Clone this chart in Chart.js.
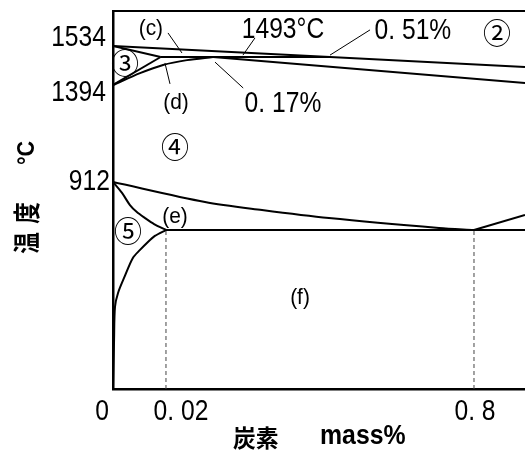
<!DOCTYPE html>
<html>
<head>
<meta charset="utf-8">
<script src="https://cdn.jsdelivr.net/npm/chart.js@4.4.1/dist/chart.umd.min.js"></script>
<style>
  html, body { margin: 0; padding: 0; background: #fff; }
  #wrap { width: 525px; height: 450px; }
</style>
</head>
<body>
<div id="wrap"><canvas id="chart" width="525" height="450"></canvas></div>
<script>
// ---- Phase boundaries of the iron-carbon system (carbon mass%, temperature °C) ----
const liquidusC = [0, 0.51, 1.0];
const liquidusT = [1534, 1493, 1458];
const deltaSolidusC = [0, 0.018];
const deltaSolidusT = [1534, 1493];
const deltaGammaC = [0, 0.018];
const deltaGammaT = [1394, 1493];
const gammaDeltaC = [0, 0.0102, 0.0189, 0.087, 0.17];
const gammaDeltaT = [1394, 1436, 1465, 1482, 1493];
const peritecticC = [0.018, 0.51];
const peritecticT = [1493, 1493];
const gammaSolidusC = [0.17, 1.0];
const gammaSolidusT = [1493, 1401];
const a3C = [0, 0.1445, 0.3124, 0.507, 0.7295, 0.8];
const a3T = [912, 835, 804, 773, 735, 727];
const alphaGammaC = [0, 0.0034, 0.0064, 0.0090, 0.0121, 0.0155, 0.02];
const alphaGammaT = [912, 870, 823, 796, 773, 750, 727];
const ferriteSolvusC = [0.02, 0.0158, 0.0128, 0.0102, 0.0075, 0.0045, 0.0019, 0.00075, 0.0004, 0];
const ferriteSolvusT = [727, 700, 668, 636, 599, 517, 439, 375, 224, 0];
const eutectoidC = [0.02, 1.0];
const eutectoidT = [727, 727];
const acmC = [0.8, 1.0];
const acmT = [727, 785];

// vertical guides below the eutectoid line
const guideLowC = [0.02, 0.02];
const guideEutC = [0.8, 0.8];
const guideT = [0, 727];

// leader lines from labels to the features they name
const leaderCC = [0.0264, 0.071];     const leaderCT = [1581, 1508];
const leaderDC = [0.0328, 0.0196];    const leaderDT = [1398, 1472];
const leaderPerC = [0.292, 0.257];    const leaderPerT = [1563, 1500];
const leader051C = [0.5906, 0.51];    const leader051T = [1592, 1500];
const leader017C = [0.1758, 0.2578];  const leader017T = [1475, 1379];

// axis ticks
const tempTicks = [1534, 1394, 912];
const tempTickText = ['1534', '1394', '912'];
const carbonTicks = [0, 0.02, 0.8];
const carbonTickText = ['0', '0. 02', '0. 8'];

// region and point labels
const regionText = ['(c)', '(d)', '(e)', '(f)'];
const regionC = [0.0143, 0.0519, 0.0487, 0.4228];
const regionT = [1595, 1305, 777, 416];
const phaseText = ['②', '③', '④', '⑤'];
const phaseC = [0.890, 0.0045, 0.0487, 0.0057];
const phaseT = [1581, 1472, 1086, 722];
const noteText = ['1493°C', '0. 51%', '0. 17%'];
const noteC = [0.3734, 0.677, 0.3734];
const noteT = [1592, 1588, 1300];

// ---- Schematic (piecewise-linear) axes ----
const AXIS_BREAKS = {
  x: { values: [0, 0.02, 0.17, 0.51, 0.8, 1.0], fractions: [0, 0.1286, 0.2427, 0.5267, 0.8762, 1] },
  y: { values: [0, 727, 912, 1394, 1493, 1534, 1660], fractions: [0, 0.4206, 0.5476, 0.8042, 0.8783, 0.9074, 1] }
};
function interp(v, from, to) {
  const n = from.length;
  let i = 0;
  while (i < n - 2 && v > from[i + 1]) i++;
  const t = (v - from[i]) / (from[i + 1] - from[i]);
  return to[i] + t * (to[i + 1] - to[i]);
}
class PiecewiseScale extends Chart.LinearScale {
  getPixelForValue(value) {
    if (value === null || value === undefined || isNaN(value)) return NaN;
    const b = AXIS_BREAKS[this.axis];
    return this.getPixelForDecimal(interp(value, b.values, b.fractions));
  }
  getValueForPixel(pixel) {
    const b = AXIS_BREAKS[this.axis];
    return interp(this.getDecimalForPixel(pixel), b.fractions, b.values);
  }
}
PiecewiseScale.id = 'piecewise';
PiecewiseScale.defaults = Chart.LinearScale.defaults;
Chart.register(PiecewiseScale);

const pts = (cs, ts) => cs.map((c, i) => ({ x: c, y: ts[i] }));
const boundary = (cs, ts, w) => ({
  data: pts(cs, ts), showLine: true, borderColor: '#000', borderWidth: w || 2,
  pointRadius: 0, fill: false, tension: 0
});
const curve = (cs, ts) => Object.assign(boundary(cs, ts, 2), { tension: 0.3 });
const leader = (cs, ts) => boundary(cs, ts, 1);
const guide = (cs, ts) => Object.assign(boundary(cs, ts, 1), { borderColor: '#444', borderDash: [4, 3] });

const NUM_FONT = "29px 'Liberation Sans', sans-serif";
const NUM_SQUEEZE = 0.85;
const PAREN_FONT = "22px 'Liberation Sans', sans-serif";
const PAREN_SQUEEZE = 0.95;
const CIRCLE_FONT = "28px 'Noto Sans CJK JP', sans-serif";

// draw text narrowed horizontally (condensed lettering)
function squeezed(ctx, text, px, py, sx, align) {
  ctx.save();
  ctx.translate(px, py);
  ctx.scale(sx, 1);
  ctx.textAlign = align || 'center';
  ctx.fillText(text, 0, 0);
  ctx.restore();
}

const annotate = {
  id: 'annotate',
  afterDraw(chart) {
    const { ctx, chartArea: a, scales: { x, y } } = chart;
    ctx.save();
    // top frame line
    ctx.strokeStyle = '#000';
    ctx.lineWidth = 2;
    ctx.beginPath();
    ctx.moveTo(a.left, a.top);
    ctx.lineTo(a.right, a.top);
    ctx.stroke();

    ctx.fillStyle = '#000';
    ctx.textBaseline = 'middle';
    const put = (texts, cs, ts, font, sx) => {
      ctx.font = font;
      texts.forEach((t, i) => squeezed(ctx, t, x.getPixelForValue(cs[i]), y.getPixelForValue(ts[i]), sx));
    };
    put(regionText, regionC, regionT, PAREN_FONT, PAREN_SQUEEZE);
    put(phaseText, phaseC, phaseT, CIRCLE_FONT, 1);
    put(noteText, noteC, noteT, NUM_FONT, NUM_SQUEEZE);

    // tick labels
    ctx.font = NUM_FONT;
    const yNudge = [-8, 8, 0];
    const yRight = [-7, -7, -3];
    tempTicks.forEach((v, i) => squeezed(ctx, tempTickText[i], a.left + yRight[i], y.getPixelForValue(v) + yNudge[i], NUM_SQUEEZE, 'right'));
    const xNudge = [-11, 15, 1];
    carbonTicks.forEach((v, i) => squeezed(ctx, carbonTickText[i], x.getPixelForValue(v) + xNudge[i], a.bottom + 23, NUM_SQUEEZE, 'center'));

    // x axis title
    ctx.font = "bold 24px 'Noto Sans CJK JP', sans-serif";
    squeezed(ctx, '炭素', a.left + 120, a.bottom + 49, 0.95, 'left');
    ctx.font = "bold 27px 'Liberation Sans', sans-serif";
    squeezed(ctx, 'mass%', a.left + 207, a.bottom + 48, 0.92, 'left');

    // y axis title (rotated)
    ctx.translate(27, 0);
    ctx.rotate(-Math.PI / 2);
    ctx.font = "bold 27px 'Noto Sans CJK JP', sans-serif";
    squeezed(ctx, '温', -243, 0, 0.8, 'center');
    squeezed(ctx, '度', -213, 0, 0.8, 'center');
    ctx.font = "bold 24px 'Liberation Sans', sans-serif";
    squeezed(ctx, '°C', -153, 0, 0.9, 'center');
    ctx.restore();
  }
};

new Chart(document.getElementById('chart'), {
  type: 'scatter',
  data: {
    datasets: [
      guide(guideLowC, guideT),
      guide(guideEutC, guideT),
      leader(leaderCC, leaderCT),
      leader(leaderDC, leaderDT),
      leader(leaderPerC, leaderPerT),
      leader(leader051C, leader051T),
      leader(leader017C, leader017T),
      boundary(liquidusC, liquidusT),
      boundary(deltaSolidusC, deltaSolidusT),
      boundary(deltaGammaC, deltaGammaT),
      curve(gammaDeltaC, gammaDeltaT),
      boundary(peritecticC, peritecticT),
      boundary(gammaSolidusC, gammaSolidusT),
      curve(a3C, a3T),
      curve(alphaGammaC, alphaGammaT),
      curve(ferriteSolvusC, ferriteSolvusT),
      boundary(eutectoidC, eutectoidT),
      boundary(acmC, acmT)
    ]
  },
  options: {
    responsive: false,
    animation: false,
    devicePixelRatio: 1,
    layout: { padding: { top: 11, right: 0, left: 0, bottom: 0 } },
    plugins: { legend: { display: false }, tooltip: { enabled: false } },
    scales: {
      x: {
        type: 'piecewise', min: 0, max: 1.0, position: 'bottom',
        afterBuildTicks: s => { s.ticks = carbonTicks.map(v => ({ value: v })); },
        afterFit: s => { s.height = 61; },
        ticks: { display: false },
        grid: { display: false },
        border: { display: true, color: '#000', width: 2.5 }
      },
      y: {
        type: 'piecewise', min: 0, max: 1660, position: 'left',
        afterBuildTicks: s => { s.ticks = tempTicks.map(v => ({ value: v })); },
        afterFit: s => { s.width = 113; },
        ticks: { display: false },
        grid: { display: false },
        border: { display: true, color: '#000', width: 2.5 }
      }
    }
  },
  plugins: [annotate]
});
</script>
</body>
</html>
